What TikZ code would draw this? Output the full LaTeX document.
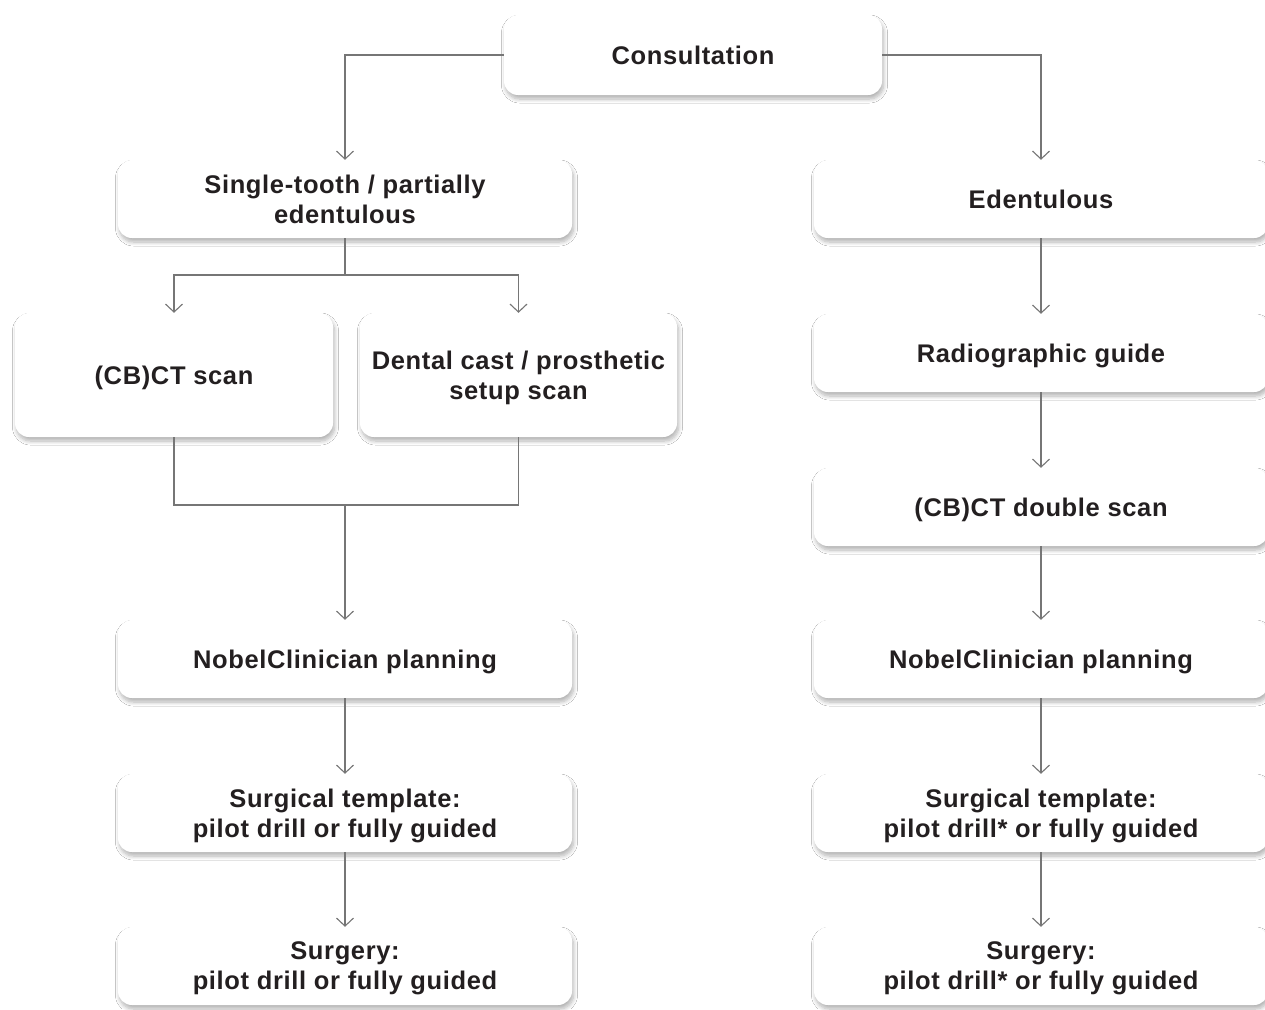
\documentclass[tikz,border=0pt]{standalone}
\usepackage{fontspec}
\setmainfont{Liberation Sans}[LetterSpace=2.5]
\usetikzlibrary{arrows.meta,shadows.blur}
\definecolor{txt}{HTML}{231F20}
\definecolor{linec}{HTML}{767676}
\begin{document}
\begin{tikzpicture}[x=1pt,y=-1pt,
  box/.style={fill=white, rounded corners=14pt,
    blur shadow={shadow xshift=1.5pt, shadow yshift=-4pt, shadow blur radius=4pt, shadow blur steps=8, shadow opacity=30},
    align=center, font=\fontsize{25.5}{30}\selectfont\bfseries, text=txt, inner sep=0pt, text depth=0pt},
  wide/.style={box, minimum width=454pt, minimum height=78pt},
  conn/.style={draw=linec, line width=1.1pt},
  arr/.style={conn, -{Straight Barb[length=8pt,width=17pt,line width=1.1pt]}}]
\clip (0,0) rectangle (1265,1009);
\fill[white] (0,0) rectangle (1265,1009);
% nodes
\node[box, minimum width=378pt, minimum height=80pt] (cons) at (693,55) {Consultation};
\node[wide] (single) at (345,199) {Single-tooth / partially\\edentulous};
\node[wide] (edent) at (1041,199) {Edentulous};
\node[box, minimum width=318pt, minimum height=124pt] (cbct) at (174,375) {(CB)CT scan};
\node[box, minimum width=317pt, minimum height=124pt] (dental) at (518.5,375) {Dental cast / prosthetic\\setup scan};
\node[wide] (radio) at (1041,353) {Radiographic guide};
\node[wide] (double) at (1041,507) {(CB)CT double scan};
\node[wide] (nobelL) at (345,659) {NobelClinician planning};
\node[wide] (nobelR) at (1041,659) {NobelClinician planning};
\node[wide] (templL) at (345,813) {Surgical template:\\pilot drill or fully guided};
\node[wide] (templR) at (1041,813) {Surgical template:\\pilot drill* or fully guided};
\node[wide] (surgL) at (345,966) {Surgery:\\pilot drill or fully guided};
\node[wide] (surgR) at (1041,966) {Surgery:\\pilot drill* or fully guided};
% connectors
\draw[arr] (cons.west) -| (single.north);
\draw[arr] (cons.east) -| (edent.north);
\coordinate (split) at (345,275);
\coordinate (merge) at (345,505);
\draw[conn] (single.south) -- (split);
\draw[arr] (split) -| (cbct.north);
\draw[arr] (split) -| (dental.north);
\draw[conn] (cbct.south) |- (merge);
\draw[conn] (dental.south) |- (merge);
\draw[arr] (merge) -- (nobelL.north);
\draw[arr] (nobelL) -- (templL);
\draw[arr] (templL) -- (surgL);
\draw[arr] (edent) -- (radio);
\draw[arr] (radio) -- (double);
\draw[arr] (double) -- (nobelR);
\draw[arr] (nobelR) -- (templR);
\draw[arr] (templR) -- (surgR);
\end{tikzpicture}
\end{document}
